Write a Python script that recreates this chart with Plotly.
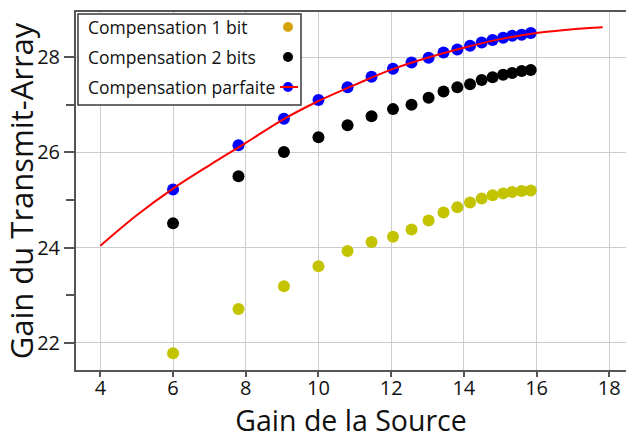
import plotly.graph_objects as go

# ---- data ----
gain_source = [6.0, 7.8, 9.05, 10.0, 10.8, 11.46, 12.05, 12.56, 13.03, 13.44,
               13.82, 14.17, 14.49, 14.79, 15.08, 15.33, 15.59, 15.84]
gain_1bit = [21.78, 22.71, 23.19, 23.61, 23.93, 24.12, 24.23, 24.38, 24.57, 24.74,
             24.85, 24.95, 25.03, 25.10, 25.14, 25.17, 25.19, 25.20]
gain_2bits = [24.51, 25.50, 26.01, 26.32, 26.57, 26.76, 26.91, 27.00, 27.15, 27.28,
              27.37, 27.43, 27.52, 27.58, 27.63, 27.67, 27.71, 27.73]
gain_parfaite = [25.22, 26.15, 26.71, 27.10, 27.37, 27.59, 27.76, 27.89, 27.99, 28.10,
                 28.16, 28.24, 28.31, 28.36, 28.41, 28.45, 28.47, 28.51]
curve_x = [4, 5, 6, 7, 8, 9, 10, 11, 12, 13, 14, 15, 16, 17, 17.82]
curve_y = [24.04, 24.68, 25.24, 25.73, 26.20, 26.68, 27.08, 27.42, 27.74, 27.99,
           28.20, 28.38, 28.51, 28.59, 28.63]
x_ticks = [4, 6, 8, 10, 12, 14, 16, 18]
y_ticks = [22, 24, 26, 28]
legend_labels = ["Compensation 1 bit", "Compensation 2 bits", "Compensation parfaite"]

W, H = 626, 439
ML, MR, MT, MB = 76, 0, 12, 69
PW, PH = W - ML - MR, H - MT - MB
FONT = "Open Sans, Liberation Sans, Arial, sans-serif"

fig = go.Figure()
fig.add_trace(go.Scatter(x=gain_source, y=gain_1bit, mode="markers",
                         marker=dict(color="#c3c300", size=12), showlegend=False))
fig.add_trace(go.Scatter(x=gain_source, y=gain_2bits, mode="markers",
                         marker=dict(color="#000000", size=12), showlegend=False))
fig.add_trace(go.Scatter(x=gain_source, y=gain_parfaite, mode="markers",
                         marker=dict(color="#0000ff", size=12), showlegend=False))
fig.add_trace(go.Scatter(x=curve_x, y=curve_y, mode="lines",
                         line=dict(color="#ff0000", width=2, shape="spline"),
                         showlegend=False))

def px(xp):
    return (xp - ML) / PW

def py(yp):
    return (H - MB - yp) / PH

shapes = [dict(type="rect", xref="paper", yref="paper",
               x0=px(78), x1=px(301), y0=py(105), y1=py(14),
               fillcolor="white", line=dict(color="#3a3a3a", width=1.5), layer="above")]
annotations = []
rows = [27, 57, 87]
mcolors = ["#d4a20e", "#000000", "#0000ff"]
for lab, ry, mc in zip(legend_labels, rows, mcolors):
    annotations.append(dict(text=lab, xref="paper", yref="paper", x=px(86), y=py(ry),
                            xanchor="left", yanchor="middle", showarrow=False,
                            font=dict(family=FONT, size=17.5, color="#111111")))
    shapes.append(dict(type="circle", xref="paper", yref="paper",
                       x0=px(283), x1=px(293), y0=py(ry + 5), y1=py(ry - 5),
                       fillcolor=mc, line=dict(width=0), layer="above"))
shapes.append(dict(type="line", xref="paper", yref="paper",
                   x0=px(280), x1=px(298), y0=py(rows[2]), y1=py(rows[2]),
                   line=dict(color="#ff0000", width=2), layer="above"))

fig.update_layout(
    width=W, height=H,
    margin=dict(l=ML, r=MR, t=MT, b=MB, autoexpand=False),
    plot_bgcolor="white", paper_bgcolor="white",
    font=dict(family=FONT, color="#111111"),
    shapes=shapes, annotations=annotations,
    xaxis=dict(range=[3.33, 18.46], tickvals=x_ticks, showgrid=True, automargin=False,
               gridcolor="#cccccc", gridwidth=1, zeroline=False,
               showline=True, linecolor="#555555", linewidth=2, mirror=True,
               ticks="outside", ticklen=5, tickwidth=1.5, tickcolor="#555555",
               tickfont=dict(size=20), ticklabelstandoff=-6,
               title=dict(text="Gain de la Source", font=dict(size=28.5), standoff=18)),
    yaxis=dict(range=[21.43, 28.95], tickvals=y_ticks, showgrid=True, automargin=False,
               gridcolor="#cccccc", gridwidth=1, zeroline=False,
               showline=True, linecolor="#555555", linewidth=2,
               ticks="outside", ticklen=10, tickwidth=1.5, tickcolor="#555555",
               tickfont=dict(size=20),
               minor=dict(tickvals=[23, 25, 27], ticks="outside", ticklen=8,
                          tickcolor="#555555", tickwidth=1.5, showgrid=False),
               title=dict(text="Gain du Transmit-Array", font=dict(size=31), standoff=6)),
)

fig.write_html("out.html", config={"displayModeBar": False},
               post_script="document.body.style.margin='0';document.body.style.padding='0';")
